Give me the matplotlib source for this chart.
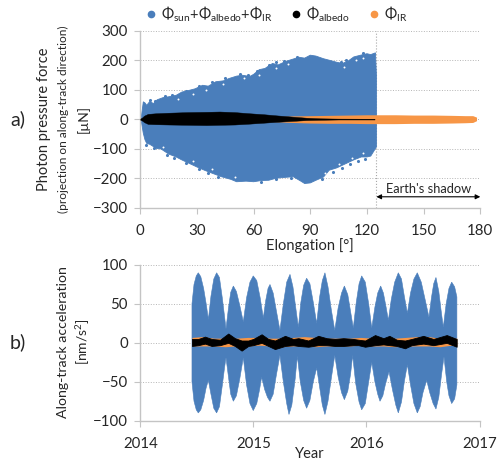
import matplotlib
matplotlib.use("Agg")
import matplotlib.pyplot as plt
from matplotlib.lines import Line2D

plt.rcParams['font.family'] = ['Lato', 'DejaVu Sans']
plt.rcParams['mathtext.fontset'] = 'custom'
plt.rcParams['mathtext.rm'] = 'Lato'
plt.rcParams['mathtext.it'] = 'Lato'
plt.rcParams['mathtext.bf'] = 'Lato'
plt.rcParams['mathtext.fallback'] = 'stix'

BLUE = '#4a7ebb'
ORANGE = '#f79646'
GRAY = '#c4c4c4'
TXT = '#262626'

# panel a, envelope of the total force
a_up_x = [0.5, 1.6, 2.5, 3.4, 5, 7, 9, 12, 15, 19, 22, 26, 29, 33, 36, 40, 44, 47, 51, 54, 58, 60, 63, 66, 70, 73,
          77, 80, 84, 87, 90, 93, 97, 100, 104, 107, 110, 113, 116, 120, 122, 124.5, 125]
a_up = [5, 59, 55, 47, 60, 53, 66, 73, 76, 81, 92, 98, 103, 115, 112, 127, 130, 138, 146, 149, 145, 152, 168, 172,
        189, 184, 196, 202, 210, 207, 217, 214, 205, 200, 193, 189, 197, 211, 216, 222, 219, 225, 150]
a_lo_x = [0.5, 1.6, 2.5, 3.4, 5, 8.5, 11, 15, 19, 22, 26, 30, 34, 38, 43, 48, 51, 56, 60, 64, 68, 72, 77, 81, 85,
          87, 90, 93, 97, 100, 104, 109, 113, 117, 120, 122, 125]
a_lo = [-5, -48, -70, -82, -85, -99, -101, -118, -128, -138, -150, -162, -173, -183, -195, -204, -212, -210, -212,
        -208, -207, -200, -197, -195, -210, -218, -216, -207, -196, -173, -165, -150, -138, -128, -128, -125, -94]
a_ir_x = [70, 80, 90, 100, 110, 120, 125, 135, 145, 155, 165, 172, 176, 178]
a_ir_up = [8, 11, 12, 13, 14, 15, 15, 15, 14, 14, 13, 12, 12, 7]
a_ir_lo = [-8, -11, -13, -14, -14, -15, -15, -15, -14, -14, -13, -12, -11, -5]
a_alb_x = [0, 1, 2, 4, 8, 15, 25, 35, 42, 50, 58, 65, 72, 80, 88, 95, 105, 124]
a_alb_up = [2, 6, 12, 18, 20, 22, 24, 25, 26, 24, 20, 17, 13, 9, 5, 3, 2, 1.5]
a_alb_lo = [-2, -5, -10, -16, -17, -18, -19, -20, -19, -18, -15, -12, -9, -6, -3, -2, -1, -1]

# scattered points seen at the edge of the envelope, and gaps seen just inside it
a_spk_x = [5, 8, 13, 17, 24, 31, 38, 45, 53, 57, 62, 68, 72, 76, 83, 106, 109, 118,
           3, 7, 14, 18, 24, 31, 36, 41, 64, 72, 80, 96, 102, 107, 111, 115, 119]
a_spk_y = [65, 63, 79, 83, 95, 113, 125, 139, 152, 151, 165, 183, 193, 198, 212, 195, 201, 224,
           -88, -96, -123, -130, -150, -168, -181, -197, -212, -202, -199, -203, -178, -165, -152, -142, -134]
a_gap_x = [20, 28, 35, 44, 55, 63, 72, 78, 108, 114, 118, 98, 105, 112, 118, 28, 38, 12, 50]
a_gap_y = [70, 85, 100, 120, 138, 150, 175, 188, 178, 200, 208, -182, -152, -130, -116, -140, -168, -95, -196]

# panel b, envelope of the total acceleration
b_up_x = [2014.457, 2014.475, 2014.495, 2014.513, 2014.535, 2014.56, 2014.585, 2014.602, 2014.625, 2014.65,
          2014.675, 2014.70, 2014.725, 2014.745, 2014.758, 2014.78, 2014.80, 2014.823, 2014.85, 2014.88, 2014.911,
          2014.94, 2014.97, 2014.999, 2015.03, 2015.06, 2015.088, 2015.11, 2015.13, 2015.147, 2015.175, 2015.205,
          2015.235, 2015.265, 2015.295, 2015.324, 2015.35, 2015.375, 2015.398, 2015.42, 2015.445, 2015.471,
          2015.50, 2015.53, 2015.56, 2015.585, 2015.61, 2015.633, 2015.66, 2015.69, 2015.72, 2015.75, 2015.78,
          2015.805, 2015.835, 2015.86, 2015.884, 2015.91, 2015.935, 2015.958, 2015.99, 2016.02, 2016.047, 2016.075,
          2016.10, 2016.126, 2016.15, 2016.175, 2016.194, 2016.22, 2016.25, 2016.282, 2016.31, 2016.335, 2016.362,
          2016.39, 2016.42, 2016.45, 2016.485, 2016.52, 2016.553, 2016.575, 2016.595, 2016.615, 2016.64, 2016.66,
          2016.68, 2016.705, 2016.73, 2016.754, 2016.78, 2016.80]
b_up = [50, 75, 86, 90, 85, 70, 48, 30, 60, 82, 90, 84, 58, 34, 18, 45, 65, 73, 66, 48, 27, 58, 78, 86, 80, 58, 32,
        55, 70, 75, 64, 40, 16, 50, 78, 88, 72, 45, 20, 52, 74, 83, 76, 52, 25, 58, 80, 90, 72, 42, 16, 45, 64,
        73, 62, 40, 19, 52, 76, 86, 78, 50, 19, 46, 64, 73, 64, 45, 29, 56, 78, 90, 82, 60, 38, 64, 82, 90, 78,
        55, 33, 58, 76, 84, 66, 42, 20, 50, 70, 78, 72, 59]
b_lo_x = [2014.457, 2014.475, 2014.495, 2014.513, 2014.535, 2014.56, 2014.582, 2014.602, 2014.625, 2014.65,
          2014.675, 2014.70, 2014.725, 2014.745, 2014.758, 2014.78, 2014.80, 2014.823, 2014.85, 2014.88, 2014.911,
          2014.94, 2014.97, 2014.999, 2015.03, 2015.055, 2015.073, 2015.10, 2015.125, 2015.147, 2015.175, 2015.205,
          2015.235, 2015.265, 2015.295, 2015.315, 2015.34, 2015.37, 2015.389, 2015.415, 2015.445, 2015.471,
          2015.50, 2015.53, 2015.56, 2015.585, 2015.61, 2015.633, 2015.66, 2015.69, 2015.72, 2015.75, 2015.78,
          2015.805, 2015.835, 2015.86, 2015.878, 2015.905, 2015.935, 2015.958, 2015.99, 2016.02, 2016.047, 2016.075,
          2016.10, 2016.12, 2016.145, 2016.17, 2016.20, 2016.23, 2016.26, 2016.282, 2016.31, 2016.335, 2016.362,
          2016.39, 2016.42, 2016.45, 2016.475, 2016.50, 2016.533, 2016.56, 2016.59, 2016.615, 2016.64, 2016.665,
          2016.686, 2016.71, 2016.73, 2016.754, 2016.78, 2016.80]
b_lo = [-50, -75, -86, -90, -86, -74, -58, -48, -66, -84, -90, -82, -55, -32, -19, -44, -66, -75, -68, -46, -19,
        -54, -78, -87, -78, -60, -44, -60, -70, -75, -66, -40, -16, -50, -78, -92, -80, -46, -17, -50, -74, -84,
        -74, -50, -32, -56, -80, -92, -75, -45, -16, -44, -64, -73, -62, -40, -16, -52, -76, -86, -78, -50, -25,
        -50, -66, -75, -68, -52, -37, -60, -80, -90, -76, -50, -28, -54, -78, -90, -82, -64, -48, -64, -78, -85,
        -70, -40, -18, -50, -68, -78, -72, -54]
b_ir_x = [2014.457, 2014.55, 2014.65, 2014.75, 2014.85, 2014.95, 2015.05, 2015.15, 2015.25, 2015.35, 2015.45,
          2015.55, 2015.65, 2015.75, 2015.85, 2015.95, 2016.05, 2016.15, 2016.25, 2016.35, 2016.45, 2016.55,
          2016.65, 2016.75, 2016.80]
b_ir_up = [7, 8, 6, 6, 6, 7, 7, 6, 6, 7, 8, 7, 6, 6, 6, 7, 6, 6, 6, 7, 8, 8, 6, 6, 6]
b_ir_lo = [-4, -4, -4, -5, -4, -4, -3, -4, -5, -4, -4, -5, -4, -4, -4, -3, -4, -4, -5, -4, -4, -4, -5, -3, -4]
b_alb_x = [2014.457, 2014.513, 2014.572, 2014.631, 2014.705, 2014.778, 2014.837, 2014.896, 2014.955, 2014.999,
           2015.073, 2015.132, 2015.191, 2015.280, 2015.353, 2015.398, 2015.486, 2015.574, 2015.648, 2015.722,
           2015.796, 2015.884, 2015.929, 2015.988, 2016.076, 2016.150, 2016.203, 2016.268, 2016.341, 2016.400,
           2016.503, 2016.592, 2016.710, 2016.798]
b_alb_up = [5, 5, 8, 5, 4, 12, 6, 3, 3, 5, 11, 5, 3, 9, 5, 6, 3, 9, 6, 5, 6, 5, 4, 3, 10, 6, 9, 4, 3, 5, 9, 5, 10, 5]
b_alb_lo = [-4, -3, -1, -4, -3, 0, -4, -10, -4, -3, 0, -4, -8, -4, -3, -4, -5, -3, -3, -4, -4, -3, -3, -5, -3, -2,
            -3, -4, -7, -3, -1, -3, 0, -5]

a_xticks = [0, 30, 60, 90, 120, 150, 180]
a_yticks = [-300, -200, -100, 0, 100, 200, 300]
b_xticks = [2014, 2015, 2016, 2017]
b_yticks = [-100, -50, 0, 50, 100]

W, H = 504, 468
fig = plt.figure(figsize=(W / 100, H / 100), dpi=100)


def make_axes(x0, x1, ytop, ybot):
    ax = fig.add_axes([x0 / W, 1 - ybot / H, (x1 - x0) / W, (ybot - ytop) / H])
    for s in ['top', 'right']:
        ax.spines[s].set_visible(False)
    for s in ['left', 'bottom']:
        ax.spines[s].set_color(GRAY)
        ax.spines[s].set_linewidth(1.0)
    ax.tick_params(colors=GRAY, labelcolor=TXT, labelsize=10.8, length=4, width=0.8)
    ax.tick_params(axis='x', pad=8)
    ax.tick_params(axis='y', pad=5)
    ax.grid(axis='y', color='#b5b5b5', linestyle=':', linewidth=0.7)
    ax.set_axisbelow(True)
    return ax


# panel a
ax1 = make_axes(140.3, 480.3, 30.7, 207.7)
ax1.fill(a_up_x + a_lo_x[::-1], a_up + a_lo[::-1], color=BLUE, linewidth=0.6, zorder=2)
ax1.scatter(a_spk_x, a_spk_y, s=5, color=BLUE, linewidths=0, zorder=2)
ax1.scatter(a_gap_x, a_gap_y, s=2, color='white', linewidths=0, zorder=2.5)
ax1.fill_between(a_ir_x, a_ir_lo, a_ir_up, color=ORANGE, linewidth=0, zorder=3)
ax1.fill_between(a_alb_x, a_alb_lo, a_alb_up, color='black', linewidth=0.3, zorder=4)
ax1.axvline(124.7, color='#a8a8a8', linestyle=':', linewidth=0.8, zorder=1)
ax1.axvline(180, color='#b5b5b5', linestyle=':', linewidth=0.7, zorder=1)
ax1.set_xlim(0, 180)
ax1.set_ylim(-300, 300)
ax1.set_xticks(a_xticks)
ax1.set_yticks(a_yticks)
ax1.annotate('', xy=(125, -263), xytext=(180, -263),
             arrowprops=dict(arrowstyle='<|-|>', color='black', lw=0.8, mutation_scale=7, shrinkA=0, shrinkB=0))
ax1.text(152.5, -238, "Earth's shadow", ha='center', va='center', fontsize=9.3, color=TXT)

# panel b
ax2 = make_axes(140.3, 479.5, 265, 420.7)
ax2.fill(b_up_x + b_lo_x[::-1], b_up + b_lo[::-1], color=BLUE, linewidth=0.4, zorder=2)
ax2.fill_between(b_ir_x, b_ir_lo, b_ir_up, color=ORANGE, linewidth=0, zorder=3)
ax2.fill_between(b_alb_x, b_alb_lo, b_alb_up, color='black', linewidth=0.6, zorder=4)
ax2.set_xlim(2014, 2017)
ax2.set_ylim(-100, 100)
ax2.set_xticks(b_xticks)
ax2.set_yticks(b_yticks)

# labels, placed in figure pixels
def txt(x, y, s, **kw):
    kw.setdefault('color', TXT)
    fig.text(x / W, 1 - y / H, s, ha='center', va='center', **kw)


txt(44, 119, 'Photon pressure force', rotation=90, fontsize=10.5)
txt(63, 119, '(projection on along-track direction)', rotation=90, fontsize=8.6)
txt(83, 119, '[µN]', rotation=90, fontsize=10)
txt(310, 246, 'Elongation [°]', fontsize=10.5)
txt(63, 342, 'Along-track acceleration', rotation=90, fontsize=10.2)
txt(83, 342, '[nm/s$^{2}$]', rotation=90, fontsize=10)
txt(310, 454, 'Year', fontsize=10.5)
txt(18, 119, 'a)', fontsize=14)
txt(18, 342, 'b)', fontsize=14)

handles = [Line2D([], [], linestyle='', marker='o', markersize=4.5, color=c) for c in [BLUE, 'black', ORANGE]]
labels = [r'$\Phi_{\mathrm{sun}}$+$\Phi_{\mathrm{albedo}}$+$\Phi_{\mathrm{IR}}$',
          r'$\Phi_{\mathrm{albedo}}$', r'$\Phi_{\mathrm{IR}}$']
fig.legend(handles, labels, ncol=3, frameon=False, fontsize=10.5, loc='center',
           bbox_to_anchor=(276 / W, 1 - 14 / H), handlelength=0.8, handletextpad=0.3, columnspacing=1.2, labelcolor=TXT)

fig.savefig('out.png', dpi=100)
